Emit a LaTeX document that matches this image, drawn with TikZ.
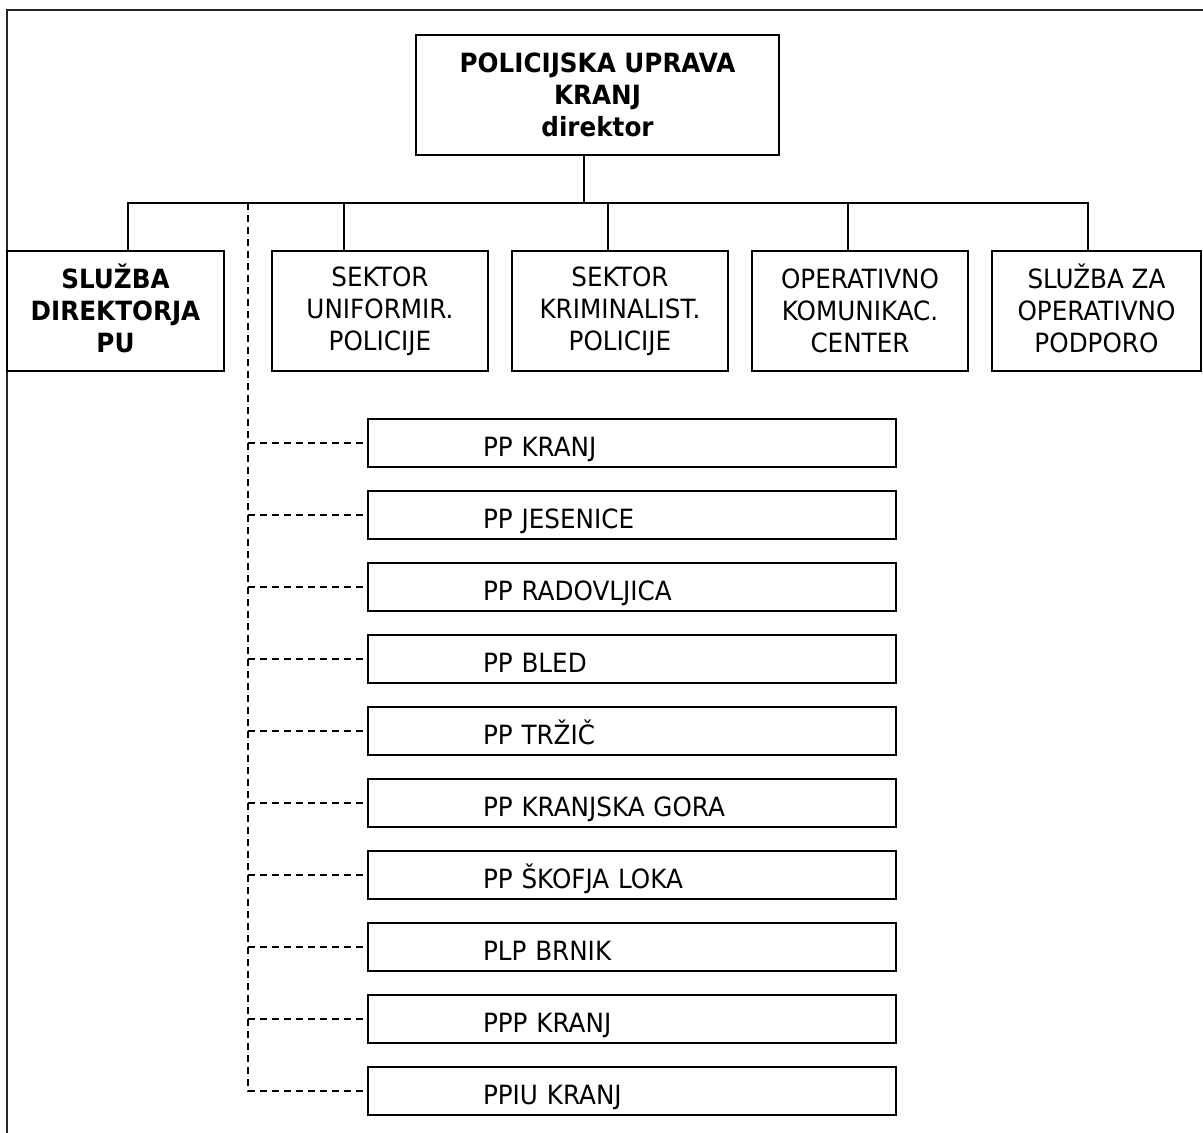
\documentclass[tikz,border=0pt]{standalone}
\usepackage{fontspec}
\setmainfont{DejaVu Sans}[FakeStretch=0.93]
\newcommand{\caponly}[1]{\raisebox{0pt}[0.729em][0pt]{#1}}
\begin{document}
\begin{tikzpicture}[x=1pt,y=-1pt,
  txt/.style={font=\fontsize{26.5}{32}\selectfont},
  box/.style={txt, draw, line width=2.7pt, minimum height=120pt, align=center, inner sep=0pt},
  boldbox/.style={box, font=\fontsize{26.5}{32}\selectfont\bfseries},
  ppbox/.style={txt, draw, line width=2.7pt, minimum width=528pt, minimum height=48pt,
     text width=298pt, inner xsep=115pt, inner ysep=0pt, align=left,
     text height=26pt, text depth=0pt},
  conn/.style={line width=2.1pt},
  dashline/.style={line width=1.8pt, dash pattern=on 7pt off 5pt},
  frame/.style={line width=1.8pt, draw=black!85}]
\useasboundingbox (0,0) rectangle (1203,1133);
% outer frame (top and left only visible)
\coordinate (fTL) at (7,10);
\coordinate (fTR) at (1203,10);
\coordinate (fBL) at (7,1133);
\draw[frame] (fTR) -- (fTL) -- (fBL);

% top box
\node[boldbox, minimum width=363pt] (top) at (597.5,95) {POLICIJSKA UPRAVA\\KRANJ\\direktor};

% second row
\node[boldbox, minimum width=217pt] (b1) at (115.5,311) {\caponly{SLUŽBA}\\DIREKTORJA\\PU};
\node[box, minimum width=216pt] (b2) at (380,311) {SEKTOR\\UNIFORMIR.\\POLICIJE};
\node[box, minimum width=216pt] (b3) at (620,311) {SEKTOR\\KRIMINALIST.\\POLICIJE};
\node[box, minimum width=216pt] (b4) at (860,311) {OPERATIVNO\\KOMUNIKAC.\\CENTER};
\node[box, minimum width=209pt] (b5) at (1096.5,311) {\caponly{SLUŽBA ZA}\\OPERATIVNO\\PODPORO};

% connectors
\coordinate (j0) at (584,203);
\coordinate (h1) at (128,203);
\coordinate (h2) at (344,203);
\coordinate (h3) at (608,203);
\coordinate (h4) at (848,203);
\coordinate (h5) at (1088,203);
\draw[conn] (top.south -| j0) -- (j0);
\draw[conn] (b1.north -| h1) -- (h1) -- (h5) -- (b5.north -| h5);
\draw[conn] (h2) -- (b2.north -| h2);
\draw[conn] (h3) -- (b3.north -| h3);
\draw[conn] (h4) -- (b4.north -| h4);

% police stations
\foreach \i/\t in {1/PP KRANJ, 2/PP JESENICE, 3/PP RADOVLJICA, 4/PP BLED, 5/PP TRŽIČ,
  6/PP KRANJSKA GORA, 7/PP ŠKOFJA LOKA, 8/PLP BRNIK, 9/PPP KRANJ, 10/PPIU KRANJ}{
  \node[ppbox] (p\i) at (632,{443+72*(\i-1)}) {\t};
}

% dashed connectors
\coordinate (d0) at (248,203);
\draw[dashline] (d0) |- (p10.west);
\foreach \i in {1,...,9}{
  \draw[dashline] (d0 |- p\i.west) -- (p\i.west);
}
\end{tikzpicture}
\end{document}
